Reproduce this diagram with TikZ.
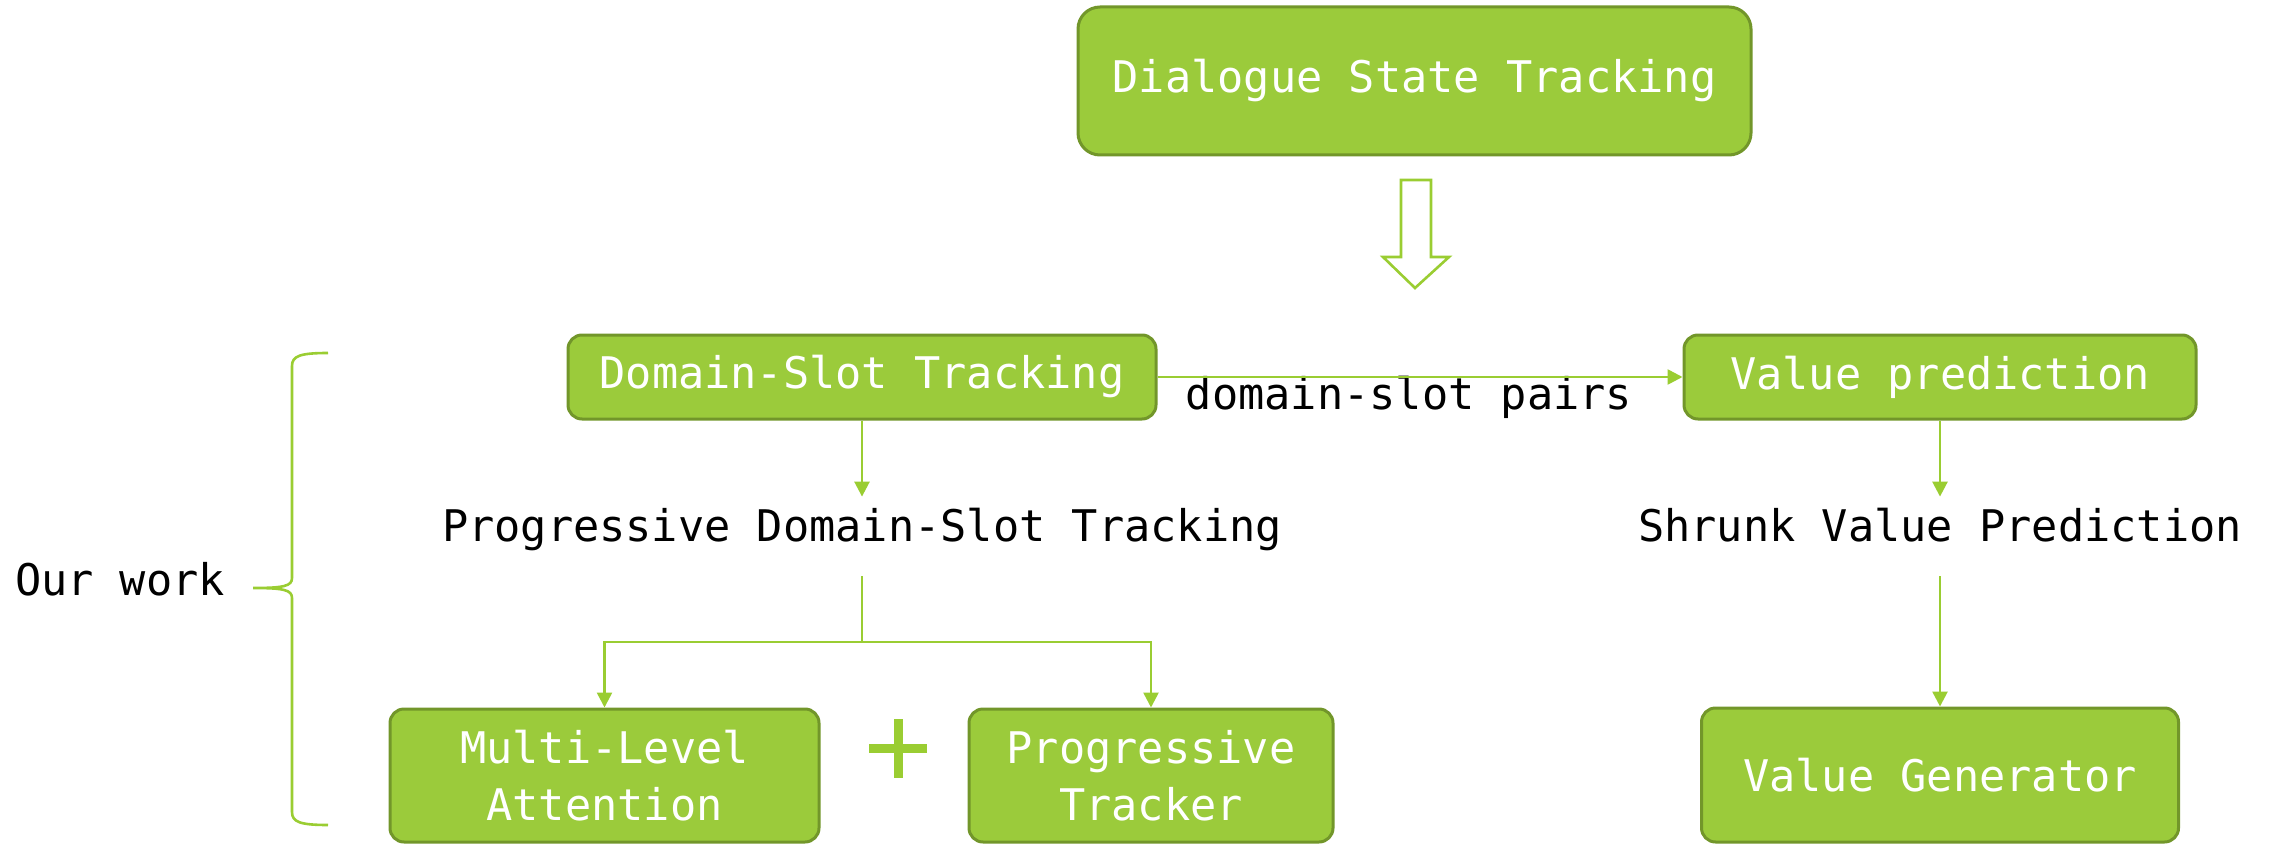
\documentclass[tikz,border=0pt]{standalone}
\usepackage{fontspec}
\setmonofont{DejaVu Sans Mono}
\usetikzlibrary{arrows.meta}
\definecolor{boxfill}{RGB}{155,203,59}
\definecolor{boxline}{RGB}{114,150,42}
\definecolor{lnk}{RGB}{154,205,50}
\tikzset{
  greenbox/.style={draw=boxline, line width=1.5pt, fill=boxfill, rounded corners=7pt,
    text=white, align=center, inner sep=0pt, font=\ttfamily\fontsize{21.8}{28.5}\selectfont},
  plain/.style={inner sep=0pt, text height=0.75em, text depth=0.25em,
    font=\ttfamily\fontsize{21.8}{28.5}\selectfont},
  link/.style={draw=lnk, line width=1.3pt},
  arr/.style={link, -{Triangle[length=7.5pt,width=7.5pt]}},
}
\begin{document}
\begin{tikzpicture}[x=0.5pt,y=-0.5pt]
\useasboundingbox (0,0) rectangle (2275,845);
% boxes
\node[greenbox, rounded corners=11pt, minimum width=336.5pt, minimum height=74pt] (dstk) at (1414.5,81) {Dialogue State Tracking};
\node[greenbox, minimum width=294pt, minimum height=42pt] (dst) at (862,377) {Domain-Slot Tracking};
\node[greenbox, minimum width=256pt, minimum height=42pt] (vp) at (1940,377) {Value prediction};
\node[greenbox, minimum width=214.5pt, minimum height=66.5pt] (mla) at (604.5,775.5) {Multi-Level\\Attention};
\node[greenbox, minimum width=182pt, minimum height=66.5pt] (pt) at (1151,775.5) {Progressive\\Tracker};
\node[greenbox, minimum width=238.5pt, minimum height=67pt] (vg) at (1940,775) {Value Generator};
% plain texts
\node[plain, minimum height=39.5pt] (pdst) at (862,536.5) {Progressive Domain-Slot Tracking};
\node[plain, minimum height=39.5pt] (svp) at (1940,536.5) {Shrunk Value Prediction};
\node[plain] (pairs) at (1409,404) {domain-slot pairs};
\node[plain] (our) at (120,590) {Our work};
% plus sign
\draw[lnk, line width=4.5pt] (869,748) -- (927,748) (898,719) -- (898,778);
% hollow arrow
\draw[lnk, line width=1.3pt, line join=miter] (1401,180) -- (1431,180) -- (1431,257) -- (1449,257) -- (1415,288) -- (1383,257) -- (1401,257) -- cycle;
% connectors
\draw[arr] (dst.east) -- (vp.west);
\draw[arr] (dst.south) -- (pdst.north);
\draw[arr] (vp.south) -- (svp.north);
\coordinate (br) at (862,642);
\draw[link] (pdst.south) -- (br);
\draw[arr] (br) -| (mla.north);
\draw[arr] (br) -| (pt.north);
\draw[arr] (svp.south) -- (vg.north);
% brace
\draw[lnk, line width=1.3pt] (328,353) .. controls (300,353) and (292,356) .. (292,366)
  -- (292,578) .. controls (292,586) and (284,588) .. (253,588)
  .. controls (284,588) and (292,590) .. (292,598)
  -- (292,812) .. controls (292,822) and (300,825) .. (328,825);
\end{tikzpicture}
\end{document}
